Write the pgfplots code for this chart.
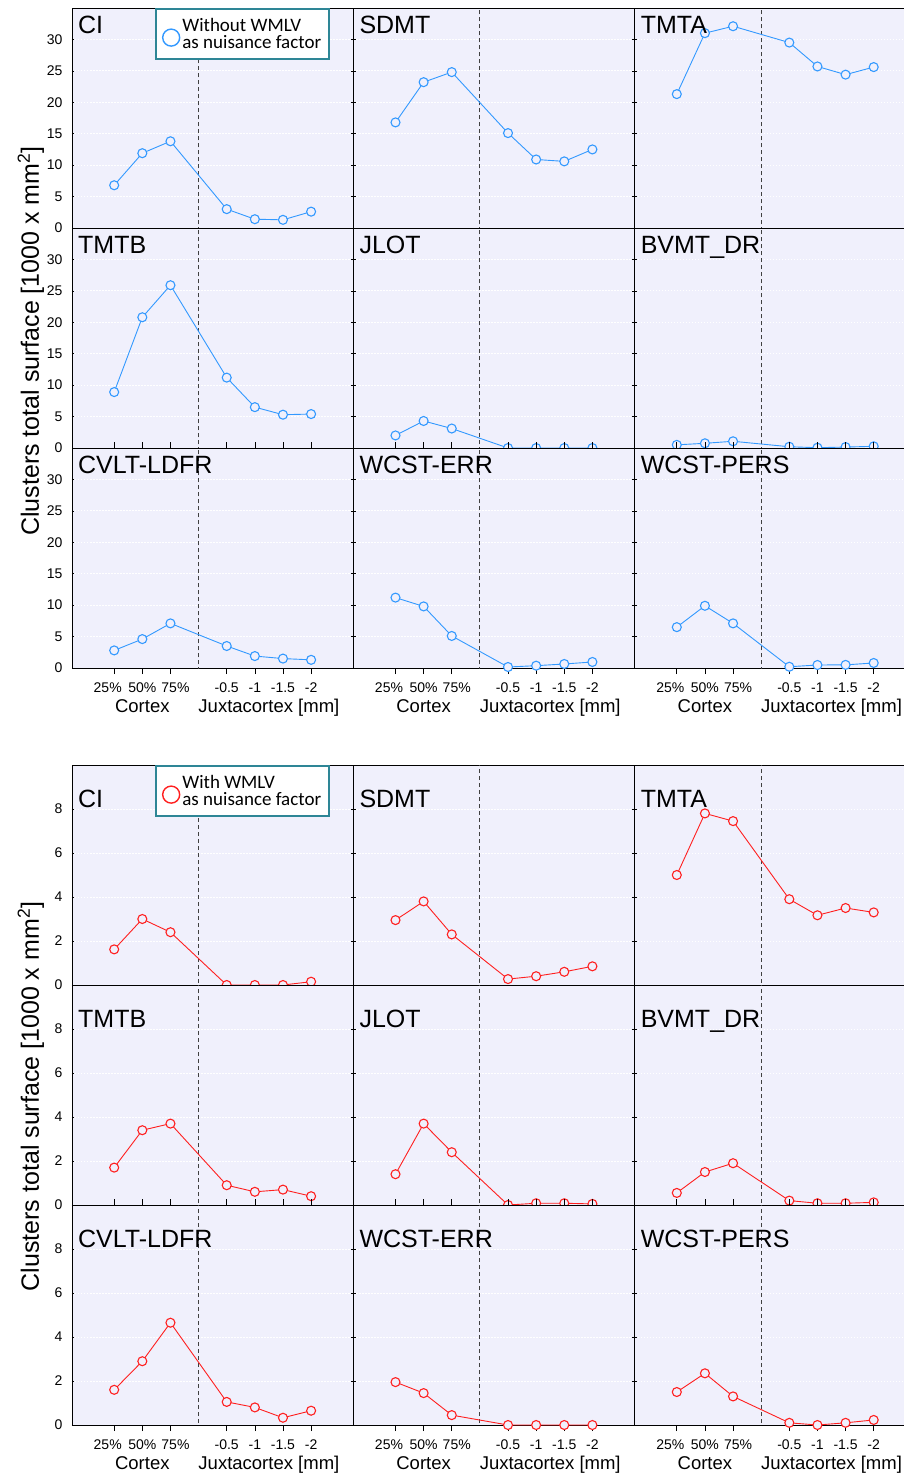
\documentclass[border=0pt]{standalone}
\usepackage{pgfplots}
\pgfplotsset{compat=1.18}
\usepackage{fontspec}
\setmainfont{Liberation Sans}
\newfontfamily\legfont{Carlito}

\definecolor{bgcol}{RGB}{240,240,252}
\definecolor{myblue}{RGB}{51,153,255}
\definecolor{myred}{RGB}{255,32,32}
\definecolor{legedge}{RGB}{46,134,150}

\pgfplotsset{
  panel/.style={
    scale only axis, width=281.3pt, height=220pt,
    xmin=-0.5, xmax=9.5, ymin=0,
    anchor=north west,
    axis background/.style={fill=bgcol},
    axis line style={black, line width=0.8pt},
    ymajorgrids,
    grid style={white, line width=1pt, dash pattern=on 1.5pt off 1.5pt},
    xtick=\empty,
    tick align=inside, major tick length=2.5pt,
    tick style={black, line width=0.6pt},
    /pgf/number format/assume math mode=true,
    ticklabel style={font=\fontsize{14}{16}\selectfont},
    yticklabel style={xshift=-6pt},
  },
  noy/.style={yticklabels={}},
  xrow/.style={
    xtick={1,2,3,5,6,7,8},
    xticklabels={\kern-13pt25\%,50\%,75\%\kern-10pt,-0.5,-1,-1.5,-2},
    xticklabel style={yshift=-5pt},
    xtick align=outside, major tick length=6pt,
    ytick style={/pgfplots/major tick length=2.5pt},
    extra description/.append code={
      \node[font=\fontsize{18.5}{20}\selectfont, anchor=base]
        at ([yshift=-44.3pt]axis description cs:0.25,0) {Cortex};
      \node[font=\fontsize{18.5}{20}\selectfont, anchor=base]
        at ([yshift=-44.3pt]axis description cs:0.7,0) {Juxtacortex [mm]};
    },
  },
  ttl/.style 2 args={
    extra description/.append code={
      \node[font=\fontsize{25}{28}\selectfont, anchor=base west, inner sep=0pt]
        at ([xshift=6pt,yshift=#2]axis description cs:0,1) {#1};
    },
  },
  leg/.style={
    legend style={at={(axis description cs:0.295,1)}, anchor=north west,
      draw=legedge, line width=2pt, fill=white,
      font=\legfont\fontsize{19}{17.5}\selectfont,
      cells={align=left}, inner xsep=6pt, inner ysep=7pt,
      /tikz/every even column/.append style={column sep=4pt}},
    legend cell align=left,
  },
  vline/.style={black!75, line width=0.8pt, dash pattern=on 4pt off 3pt, forget plot},
  blueser/.style={color=myblue, line width=0.9pt, mark=*, mark size=4.5pt,
    mark options={fill=bgcol, draw=myblue, line width=1.1pt, solid},
    legend image code/.code={\draw[myblue, line width=1.4pt, fill=white] (10pt,-3.5pt) circle (8.5pt);}},
  redser/.style={color=myred, line width=0.9pt, mark=*, mark size=4.5pt,
    mark options={fill=bgcol, draw=myred, line width=1.1pt, solid},
    legend image code/.code={\draw[myred, line width=1.4pt, fill=white] (10pt,-3.5pt) circle (8.5pt);}},
}

% #1 position, #2 options, #3 title, #4 data, #5 extra
\newcommand{\panel}[5]{%
  \begin{axis}[panel, blk, at={(#1)}, #2, ttl={#3}{\ttly}]
    \addplot[vline] coordinates {(4,-5) (4,40)};
    \addplot[ser] coordinates {#4};
    #5
  \end{axis}}

\begin{document}
\begin{tikzpicture}

%%%%%%%%%%%%%%%%%%%% Without WMLV %%%%%%%%%%%%%%%%%%%%
\pgfplotsset{blk/.style={ymax=35, ytick={0,5,...,30}}, ser/.style={blueser}}
\def\ttly{-25pt}

\panel{0pt,0pt}{leg}{CI}{(1,6.8)(2,11.9)(3,13.8)(5,3.0)(6,1.4)(7,1.3)(8,2.6)}
  {\addlegendentry{Without WMLV\\as nuisance factor}}
\panel{281.3pt,0pt}{noy}{SDMT}{(1,16.8)(2,23.2)(3,24.8)(5,15.1)(6,10.9)(7,10.6)(8,12.5)}{}
\panel{562.6pt,0pt}{noy}{TMTA}{(1,21.3)(2,31.0)(3,32.1)(5,29.5)(6,25.7)(7,24.4)(8,25.6)}{}

\panel{0pt,-220pt}{}{TMTB}{(1,8.9)(2,20.8)(3,25.9)(5,11.2)(6,6.5)(7,5.3)(8,5.4)}{}
\panel{281.3pt,-220pt}{noy}{JLOT}{(1,2.0)(2,4.3)(3,3.1)(5,0)(6,0)(7,0)(8,0)}{}
\panel{562.6pt,-220pt}{noy}{BVMT\_DR}{(1,0.5)(2,0.75)(3,1.07)(5,0.2)(6,0.05)(7,0.15)(8,0.27)}{}

\panel{0pt,-440pt}{xrow}{CVLT-LDFR}{(1,2.8)(2,4.6)(3,7.1)(5,3.5)(6,1.9)(7,1.5)(8,1.3)}{}
\panel{281.3pt,-440pt}{xrow,noy}{WCST-ERR}{(1,11.2)(2,9.8)(3,5.1)(5,0.16)(6,0.37)(7,0.64)(8,0.96)}{}
\panel{562.6pt,-440pt}{xrow,noy}{WCST-PERS}{(1,6.5)(2,9.9)(3,7.1)(5,0.2)(6,0.48)(7,0.5)(8,0.8)}{}

\node[rotate=90, anchor=base, font=\fontsize{25}{28}\selectfont] at (-33pt,-333pt)
  {Clusters total surface [1000 x mm\textsuperscript{2}]};

%%%%%%%%%%%%%%%%%%%% With WMLV %%%%%%%%%%%%%%%%%%%%
\begin{scope}[yshift=-757pt]
\pgfplotsset{blk/.style={ymax=10, ytick={0,2,...,8}}, ser/.style={redser}}
\def\ttly{-42pt}

\panel{0pt,0pt}{leg}{CI}{(1,1.62)(2,3.0)(3,2.4)(5,0)(6,0)(7,0)(8,0.15)}
  {\addlegendentry{With WMLV\\as nuisance factor}}
\panel{281.3pt,0pt}{noy}{SDMT}{(1,2.95)(2,3.8)(3,2.3)(5,0.27)(6,0.4)(7,0.6)(8,0.85)}{}
\panel{562.6pt,0pt}{noy}{TMTA}{(1,5.0)(2,7.8)(3,7.45)(5,3.9)(6,3.17)(7,3.5)(8,3.3)}{}

\panel{0pt,-220pt}{}{TMTB}{(1,1.7)(2,3.4)(3,3.7)(5,0.9)(6,0.6)(7,0.7)(8,0.4)}{}
\panel{281.3pt,-220pt}{noy}{JLOT}{(1,1.4)(2,3.7)(3,2.4)(5,0)(6,0.08)(7,0.08)(8,0.05)}{}
\panel{562.6pt,-220pt}{noy}{BVMT\_DR}{(1,0.55)(2,1.5)(3,1.9)(5,0.2)(6,0.08)(7,0.08)(8,0.12)}{}

\panel{0pt,-440pt}{xrow}{CVLT-LDFR}{(1,1.6)(2,2.9)(3,4.65)(5,1.05)(6,0.8)(7,0.33)(8,0.65)}{}
\panel{281.3pt,-440pt}{xrow,noy}{WCST-ERR}{(1,1.95)(2,1.45)(3,0.45)(5,0)(6,0)(7,0)(8,0)}{}
\panel{562.6pt,-440pt}{xrow,noy}{WCST-PERS}{(1,1.5)(2,2.35)(3,1.3)(5,0.1)(6,0)(7,0.1)(8,0.23)}{}

\node[rotate=90, anchor=base, font=\fontsize{25}{28}\selectfont] at (-33pt,-331.5pt)
  {Clusters total surface [1000 x mm\textsuperscript{2}]};
\end{scope}

\pgfresetboundingbox
\useasboundingbox (-72pt,8pt) rectangle (832pt,-1468pt);
\end{tikzpicture}
\end{document}
